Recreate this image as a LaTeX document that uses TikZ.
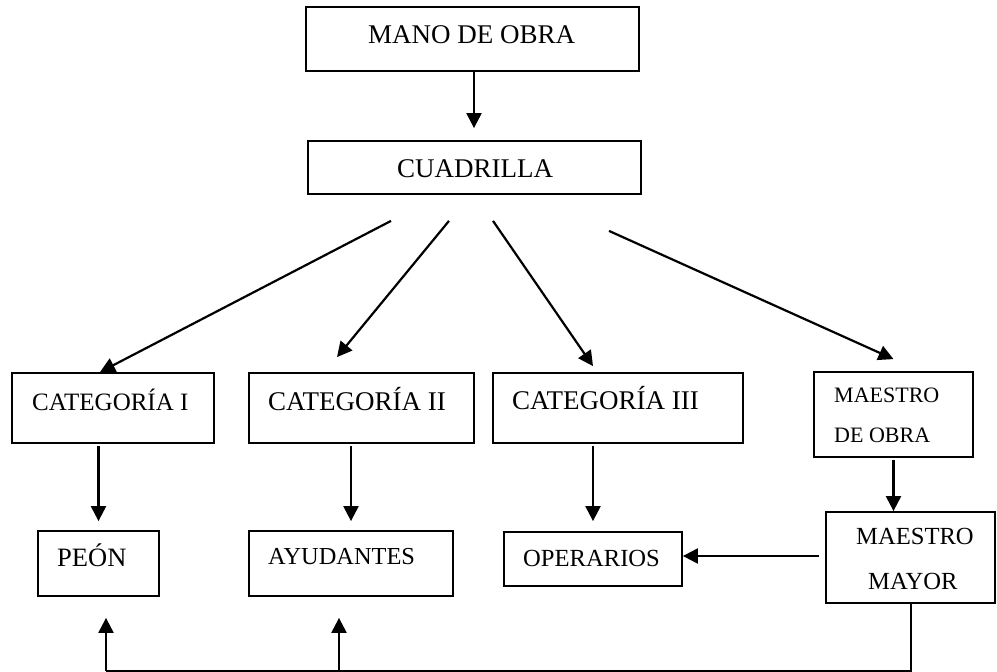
\documentclass[tikz,border=0pt]{standalone}
\usepackage{fontspec}
\setmainfont{Liberation Serif}
\usetikzlibrary{arrows.meta,calc}
\newcommand{\fsize}[1]{\fontsize{#1}{#1}\selectfont}
\tikzstyle{box}=[rectangle,draw=black,line width=1.8pt,inner sep=0pt]
\tikzstyle{lbl}=[anchor=base west,inner sep=0pt]
\tikzstyle{arrow}=[-{Triangle[width=15pt,length=15pt]},line width=2.2pt]
\tikzstyle{line}=[line width=2pt]

\begin{document}
\begin{tikzpicture}[x=1pt,y=-1pt]
	\useasboundingbox (0,0) rectangle (997,672);

	\node[box,minimum width=333pt,minimum height=64pt] (mano) at (472.5,39) {};
	\node[box,minimum width=333pt,minimum height=53pt] (cuad) at (474.5,167.5) {};
	\node[box,minimum width=202pt,minimum height=70pt] (cat1) at (113,408) {};
	\node[box,minimum width=225pt,minimum height=70pt] (cat2) at (361.5,408) {};
	\node[box,minimum width=250pt,minimum height=70pt] (cat3) at (618,408) {};
	\node[box,minimum width=159pt,minimum height=85pt] (mdo) at (893.5,414.5) {};
	\node[box,minimum width=121pt,minimum height=65pt] (peon) at (98.5,563.5) {};
	\node[box,minimum width=204pt,minimum height=65pt] (ayud) at (351,563.5) {};
	\node[box,minimum width=178pt,minimum height=54pt] (oper) at (593,559) {};
	\node[box,minimum width=169pt,minimum height=91pt] (mm) at (910.5,557.5) {};

	\node[lbl,font=\fsize{27}] (manoT) at (368,43) {MANO DE OBRA};
	\node[lbl,font=\fsize{27}] (cuadT) at (397,177) {CUADRILLA};
	\node[lbl,font=\fsize{25}] (cat1T) at (32,410) {CATEGORÍA I};
	\node[lbl,font=\fsize{27}] (cat2T) at (268,410) {CATEGORÍA II};
	\node[lbl,font=\fsize{27}] (cat3T) at (512,409) {CATEGORÍA III};
	\node[lbl,font=\fsize{22}] (mdoA) at (834,402) {MAESTRO};
	\node[lbl,font=\fsize{22}] (mdoB) at (834,442) {DE OBRA};
	\node[lbl,font=\fsize{26.5}] (peonT) at (57,566) {PEÓN};
	\node[lbl,font=\fsize{24.4}] (ayudT) at (268,564) {AYUDANTES};
	\node[lbl,font=\fsize{24.6}] (operT) at (523,566) {OPERARIOS};
	\node[lbl,font=\fsize{24.6}] (mmA) at (856,544) {MAESTRO};
	\node[lbl,font=\fsize{24.6}] (mmB) at (868,589) {MAYOR};

	\coordinate (pu) at ([xshift=7.5pt,yshift=-21pt]peon.south);
	\coordinate (au) at ([xshift=-12pt,yshift=-21pt]ayud.south);
	\coordinate (bend) at ([yshift=-67pt]mm.south);

	\draw[arrow] ([xshift=1.5pt]mano.south) -- ([xshift=-0.5pt,yshift=12pt]cuad.north);
	\draw[arrow] ([shift={(-83.5,26)}]cuad.south) -- ([xshift=-13pt]cat1.north);
	\draw[arrow] ([shift={(-25.5,26)}]cuad.south) -- ([shift={(-24.5,-15)}]cat2.north);
	\draw[arrow] ([shift={(18.5,26)}]cuad.south) -- ([shift={(-25,-6)}]cat3.north);
	\draw[arrow] ([shift={(134.5,36)}]cuad.south) -- ([yshift=12pt]mdo.north);
	\draw[arrow] ([yshift=-2pt]cat1.south -| peon.north) -- ([yshift=9pt]peon.north);
	\draw[arrow] ([yshift=-2pt]ayud.north |- cat2.south) -- ([yshift=9pt]ayud.north);
	\draw[arrow] ([yshift=-2pt]oper.north |- cat3.south) -- ([yshift=10pt]oper.north);
	\draw[arrow] ([yshift=-2pt]mdo.south) -- (mdo.south |- mm.north);
	\draw[arrow] ([xshift=-6pt,yshift=1.5pt]mm.west) -- ([yshift=1.5pt]mm.west -| oper.east);
	\draw[line] (mm.south) -- (bend) -- (bend -| pu);
	\draw[arrow] (bend -| pu) -- (pu);
	\draw[arrow] (bend -| au) -- (au);
\end{tikzpicture}
\end{document}
